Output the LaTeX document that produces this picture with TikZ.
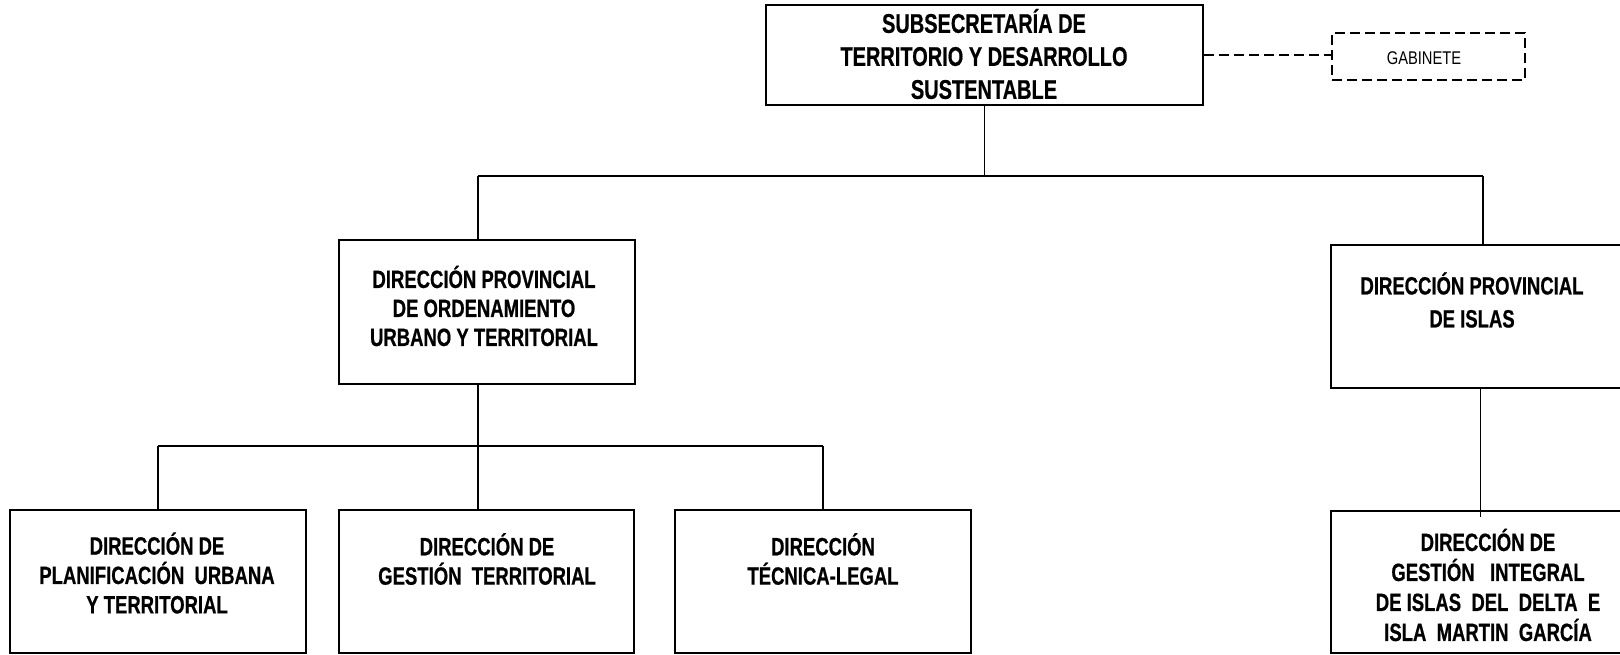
\documentclass[tikz,border=0pt]{standalone}
\usepackage{fontspec}
\usepackage{tikz}
\newfontfamily\organo{Liberation Sans}[FakeStretch=0.74, BoldFeatures={FakeBold=0.6}]
\newfontfamily\organoreg{Liberation Sans}[FakeStretch=0.8]

\tikzset{
  caja/.style={draw, line width=1pt, inner sep=0pt, minimum width=148pt, minimum height=71.5pt},
  rotulo/.style={align=center, inner sep=0pt, font=\organo\bfseries\fontsize{12.5}{#1}\selectfont},
  linea/.style={line width=0.7pt},
  punteada/.style={line width=1pt, dash pattern=on 5pt off 2.5pt}
}

\begin{document}
\begin{tikzpicture}[x=0.5pt,y=0.5pt,yscale=-1,xscale=1]
                  \useasboundingbox (0,0) rectangle (1620,654);
                  \clip (0,0) rectangle (1620,654);
                  % Boxes
                  \draw (984.5,55) node [caja, minimum width=218.5pt, minimum height=50pt] (sub) {};
                  \draw (1428.5,56.5) node [punteada, inner sep=0pt, minimum width=96.5pt, minimum height=23.5pt, draw] (gab) {};
                  \draw (486.5,312) node [caja, minimum height=72pt] (dpout) {};
                  \draw (1480.5,316.5) node [caja, minimum width=149.5pt] (dpi) {};
                  \draw (158,581.5) node [caja] (dplan) {};
                  \draw (486.5,581.5) node [caja, minimum width=147.5pt] (dgest) {};
                  \draw (823,581.5) node [caja] (dtec) {};
                  \draw (1480.5,582) node [caja, minimum width=149.5pt, minimum height=71pt] (dislas) {};
                  % Text Node
                  \draw (984,54) node [rotulo, font=\organo\bfseries\fontsize{13.5}{16.5}\selectfont] (tsub) {SUBSECRETARÍA DE\\TERRITORIO Y DESARROLLO\\SUSTENTABLE};
                  % Text Node
                  \draw (1424,58) node [inner sep=0pt, font=\organoreg\fontsize{9.2}{10}\selectfont] (tgab) {GABINETE};
                  % Text Node
                  \draw (484,306) node [rotulo=14.5pt] (tdpout) {DIRECCIÓN PROVINCIAL\\DE ORDENAMIENTO\\URBANO Y TERRITORIAL};
                  % Text Node
                  \draw (1472,300) node [rotulo=16.5pt] (tdpi) {DIRECCIÓN PROVINCIAL\\DE ISLAS};
                  % Text Node
                  \draw (157,573) node [rotulo=14.7pt] (tplan) {DIRECCIÓN DE\\PLANIFICACIÓN~~URBANA\\Y TERRITORIAL};
                  % Text Node
                  \draw (487,559) node [rotulo=14.7pt] (tgest) {DIRECCIÓN DE\\GESTIÓN~~TERRITORIAL};
                  % Text Node
                  \draw (823,559) node [rotulo=14.7pt] (ttec) {DIRECCIÓN\\TÉCNICA-LEGAL};
                  % Text Node
                  \draw (1488,585) node [rotulo=15pt] (tislas) {DIRECCIÓN DE\\GESTIÓN~~~INTEGRAL\\DE ISLAS~~DEL~~DELTA~~E\\ISLA~~MARTIN~~GARCÍA};
                  % Connection
                  \coordinate (b1L) at (478,176);
                  \coordinate (b1R) at (1483,176);
                  \draw [linea] (sub.south) -- (sub.south |- b1L);
                  \draw [linea] (b1L) -- (b1R);
                  \draw [linea] (b1L) -- (b1L |- dpout.north);
                  \draw [linea] (b1R) -- (b1R |- dpi.north);
                  % Connection
                  \draw [punteada] (sub.east) -- (sub.east -| gab.west);
                  % Connection
                  \coordinate (b2L) at (158,446);
                  \coordinate (b2M) at (478,446);
                  \coordinate (b2R) at (823,446);
                  \draw [linea] (b2L) -- (b2R);
                  \draw [linea] (b2L) -- (dplan.north);
                  \draw [linea] (b2R) -- (dtec.north);
                  \draw [linea] (dpout.south -| b2M) -- (b2M |- dgest.north);
                  % Connection
                  \draw [linea] (dpi.south) -- ([yshift=3.5pt]dislas.north);
              \end{tikzpicture}
\end{document}
